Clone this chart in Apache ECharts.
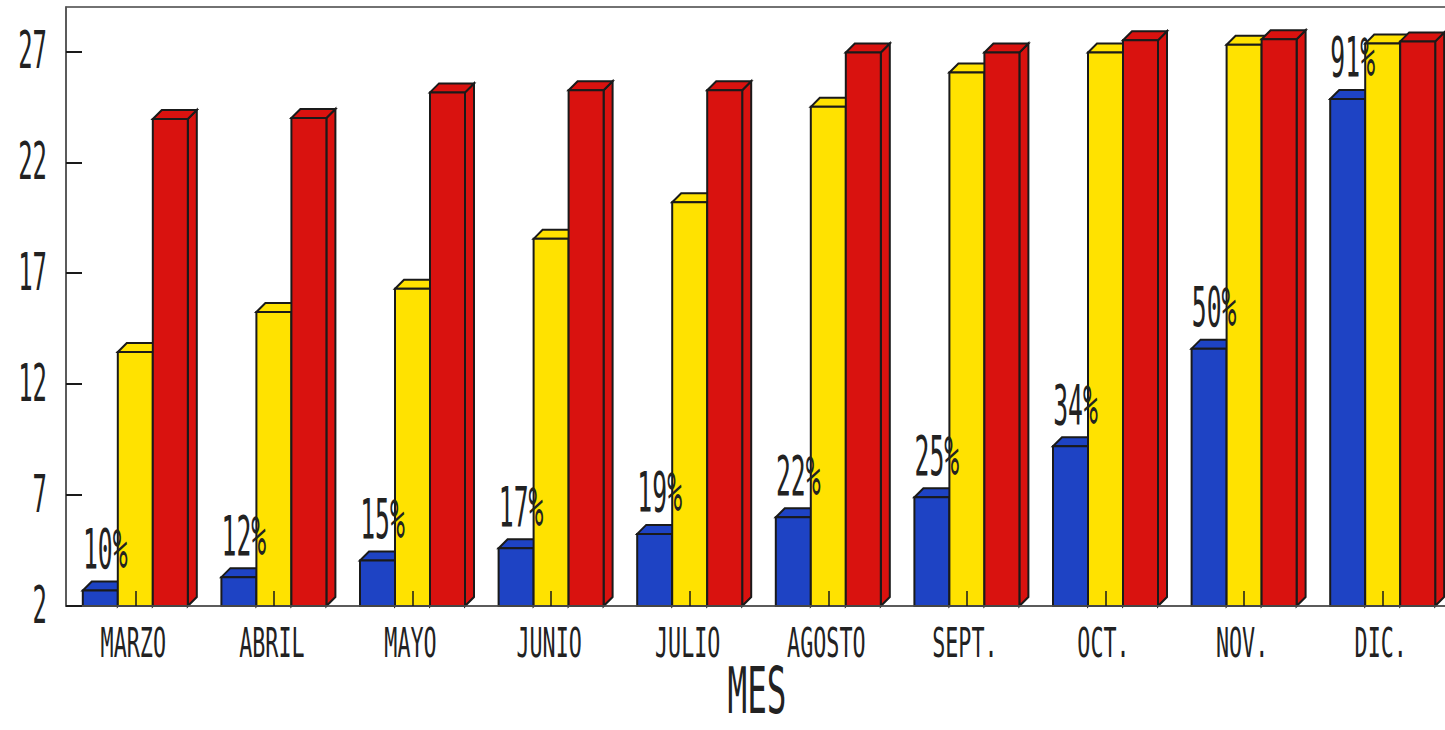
<!DOCTYPE html>
<html>
<head>
<meta charset="utf-8">
<script src="https://cdn.jsdelivr.net/npm/echarts@6/dist/echarts.min.js"></script>
<style>
  html, body { margin: 0; padding: 0; background: #fff; }
  #main { width: 1445px; height: 730px; }
</style>
</head>
<body>
<div id="main"></div>
<script>
const categories = ['MARZO', 'ABRIL', 'MAYO', 'JUNIO', 'JULIO', 'AGOSTO', 'SEPT.', 'OCT.', 'NOV.', 'DIC.']
const blueVals = [2.7, 3.3, 4.05, 4.6, 5.25, 6.0, 6.9, 9.2, 13.6, 24.85]
const yellowVals = [13.45, 15.25, 16.3, 18.55, 20.2, 24.5, 26.05, 26.95, 27.3, 27.35]
const redVals = [23.95, 24.0, 25.15, 25.25, 25.25, 26.95, 26.95, 27.5, 27.55, 27.45]
const pctLabels = ['10%', '12%', '15%', '17%', '19%', '22%', '25%', '34%', '50%', '91%']
const yTicks = [2, 7, 12, 17, 22, 27]
const yMin = 2
const yMax = 29

const BLUE = '#1e43c4'
const YELLOW = '#ffe200'
const RED = '#d9120f'
const INK = '#1a1a1a'
const FONT = "'DejaVu Sans Mono', monospace"

// bar front width and 3d depth, px
const BW = 35
const DX = 9
const DY = 9

function faceStyle(color) {
  return { fill: color, stroke: INK, lineWidth: 2, lineJoin: 'miter' }
}

// draws one 3d bar; slot 0,1,2 = left, middle, right within the month
function bar3d(slot, color) {
  return function(params, api) {
    const base = api.coord([api.value(0), yMin])
    const top = api.coord([api.value(0), api.value(1)])
    const x0 = base[0] + (slot - 1.5) * BW
    const x1 = x0 + BW
    const yb = base[1]
    const yt = top[1]
    return {
      type: 'group',
      children: [
        { type: 'polygon', shape: { points: [[x1, yt], [x1 + DX, yt - DY], [x1 + DX, yb - DY], [x1, yb]] }, style: faceStyle(color) },
        { type: 'polygon', shape: { points: [[x0, yt], [x0 + DX, yt - DY], [x1 + DX, yt - DY], [x1, yt]] }, style: faceStyle(color) },
        { type: 'rect', shape: { x: x0, y: yt, width: BW, height: yb - yt }, style: faceStyle(color) }
      ]
    }
  }
}

function textEl(x, y, text, size, sx, align) {
  return {
    type: 'text',
    x: x,
    y: y,
    scaleX: sx,
    style: {
      text: text,
      fontSize: size,
      fontFamily: FONT,
      fill: '#222',
      align: align || 'center',
      verticalAlign: 'middle'
    }
  }
}

const chart = echarts.init(document.getElementById('main'), null, { renderer: 'svg' })

chart.setOption({
  animation: false,
  grid: {
    left: 66,
    top: 7,
    width: 1386,
    height: 599,
    outerBoundsMode: 'none',
    show: true,
    borderColor: '#444',
    borderWidth: 1.5
  },
  xAxis: {
    type: 'category',
    data: categories,
    z: 10,
    axisLine: { lineStyle: { color: '#555', width: 1.5 } },
    axisTick: { show: true, inside: true, alignWithLabel: true, length: 15, lineStyle: { color: INK, width: 1.5 } },
    axisLabel: { show: false },
    splitLine: { show: false }
  },
  yAxis: {
    type: 'value',
    min: yMin,
    max: yMax,
    interval: 5,
    z: 10,
    axisLine: { show: true, lineStyle: { color: '#555', width: 1.5 } },
    axisTick: { show: true, inside: true, length: 16, customValues: yTicks, lineStyle: { color: INK, width: 2 } },
    axisLabel: { show: false },
    splitLine: { show: false }
  },
  graphic: [
    textEl(757, 691, 'MES', 64, 0.51)
  ],
  series: [
    { type: 'custom', name: 'azul', silent: true, renderItem: bar3d(0, BLUE), data: blueVals.map((v, i) => [i, v]) },
    { type: 'custom', name: 'amarillo', silent: true, renderItem: bar3d(1, YELLOW), data: yellowVals.map((v, i) => [i, v]) },
    { type: 'custom', name: 'rojo', silent: true, renderItem: bar3d(2, RED), data: redVals.map((v, i) => [i, v]) },
    {
      // percentages above the blue bars
      type: 'custom',
      silent: true,
      z: 5,
      data: blueVals.map((v, i) => [i, v]),
      renderItem: function(params, api) {
        const p = api.coord([api.value(0), api.value(1)])
        return textEl(p[0] - BW + 5, p[1] - 42, pctLabels[params.dataIndex], 55, 0.45)
      }
    },
    {
      // month names under the axis
      type: 'custom',
      silent: true,
      data: categories.map((c, i) => [i, yMin]),
      renderItem: function(params, api) {
        const p = api.coord([api.value(0), yMin])
        return textEl(p[0] - 2, p[1] + 37, categories[params.dataIndex], 41, 0.53)
      }
    },
    {
      // value labels on the left
      type: 'custom',
      silent: true,
      data: yTicks.map(v => [0, v]),
      renderItem: function(params, api) {
        const p = api.coord([0, api.value(1)])
        return textEl(params.coordSys.x - 19, p[1] - 1, String(yTicks[params.dataIndex]), 52, 0.46, 'right')
      }
    }
  ]
})
</script>
</body>
</html>
